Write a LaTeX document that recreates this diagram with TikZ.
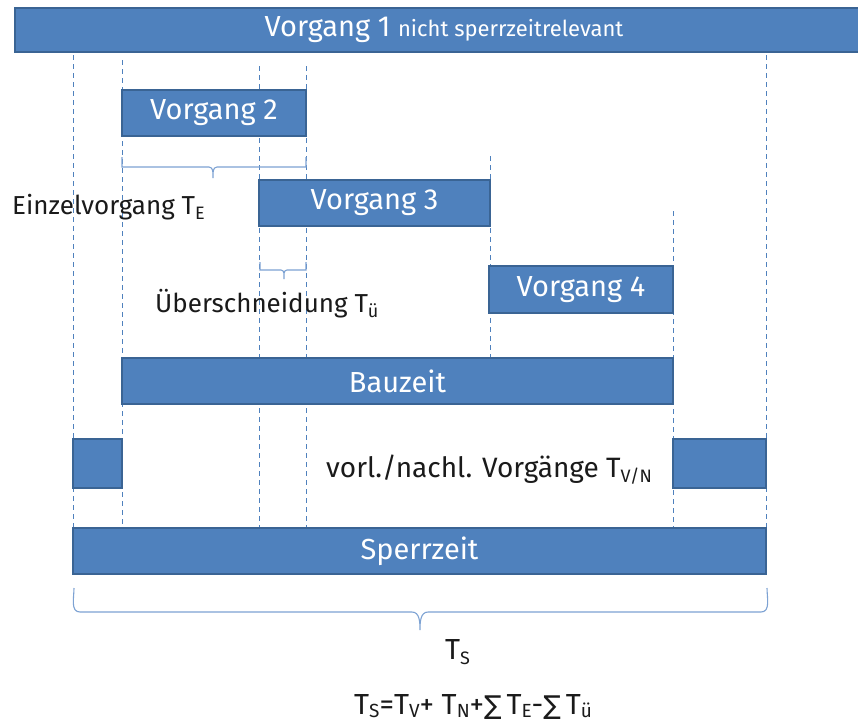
\documentclass[tikz,border=0pt]{standalone}
\usepackage{fontspec}
\setmainfont{Fira Sans}
\newfontfamily\symfont{DejaVu Sans}
\definecolor{barfill}{HTML}{4F81BD}
\definecolor{barline}{HTML}{3A6494}
\definecolor{guide}{HTML}{4F81BD}
\definecolor{bracec}{HTML}{7DA2D3}
\definecolor{txt}{HTML}{1A1A1A}
\tikzset{
  bar/.style={draw=barline, line width=1.4pt, fill=barfill, text=white, anchor=north west,
    inner sep=0pt, outer sep=0pt, font=\fontsize{29}{32}\selectfont},
  guideline/.style={draw=guide, line width=0.8pt, dash pattern=on 5pt off 4pt},
  bracel/.style={draw=bracec, line width=1.1pt},
  lbl/.style={text=txt, inner sep=0pt, anchor=base west},
}
\newcommand\tsub[1]{\raisebox{-5pt}{\fontsize{18}{18}\selectfont #1}}
\newcommand\fsub[1]{\raisebox{-3pt}{\fontsize{19}{19}\selectfont #1}}
\newcommand\sumsign{{\symfont\fontsize{26}{26}\selectfont ∑}}
\begin{document}
\begin{tikzpicture}[x=1pt,y=-1pt]
\useasboundingbox (0,0) rectangle (858,724);
% guide lines
\draw[guideline] (73,55) -- (73,528);
\draw[guideline] (122,60) -- (122,528);
\draw[guideline] (259,66) -- (259,528);
\draw[guideline] (306,66) -- (306,528);
\draw[guideline] (490,156) -- (490,358);
\draw[guideline] (673,211) -- (673,528);
\draw[guideline] (766,55) -- (766,528);
% bars
\node[bar, minimum width=850pt, minimum height=44pt] (v1) at (15,8) {\hspace*{8pt}Vorgang 1 {\fontsize{22}{24}\selectfont nicht sperrzeitrelevant}};
\node[bar, minimum width=184pt, minimum height=46pt] (v2) at (122,90) {Vorgang 2};
\node[bar, minimum width=231pt, minimum height=46pt] (v3) at (259,180) {Vorgang 3};
\node[bar, minimum width=184pt, minimum height=47pt] (v4) at (489,266) {Vorgang 4};
\node[bar, minimum width=551pt, minimum height=46pt] (bz) at (122,358) {Bauzeit};
\node[bar, minimum width=49pt, minimum height=49pt] (pre) at (73,439) {};
\node[bar, minimum width=93pt, minimum height=49pt] (post) at (673,439) {};
\node[bar, minimum width=693pt, minimum height=46pt] (sz) at (73,528) {Sperrzeit};
% braces
\draw[bracel] (122,157) -- (122,167) -- (209,167) to[out=0,in=90] (213,178) to[out=90,in=180] (217,167) -- (306,167) -- (306,157);
\draw[bracel] (260,262) -- (260,270) -- (281,270) to[out=0,in=90] (284,279) to[out=90,in=180] (287,270) -- (306,270) -- (306,262);
\draw[bracel] (74,588) to[out=-90,in=180] (80,612) -- (412,612) to[out=0,in=90] (420,630) to[out=90,in=180] (428,612) -- (761,612) to[out=0,in=-90] (767,588);
% labels
\node[lbl, font=\fontsize{26}{28}\selectfont] (te) at (12,214) {Einzelvorgang T\tsub{E}};
\node[lbl, font=\fontsize{26}{28}\selectfont] (tu) at (155,312) {Überschneidung T\tsub{ü}};
\node[lbl, font=\fontsize{28}{32}\selectfont] (tvn) at (326,477) {vorl./nachl. Vorgänge T\tsub{V/N}};
\node[lbl, font=\fontsize{29}{30}\selectfont] (ts) at (445,659) {T\tsub{S}};
\node[lbl, font=\fontsize{29}{30}\selectfont] (form) at (354,714) {T\fsub{S}=T\fsub{V}+ T\fsub{N}+\sumsign\,T\fsub{E}-\sumsign\,T\fsub{ü}};
\end{tikzpicture}
\end{document}
